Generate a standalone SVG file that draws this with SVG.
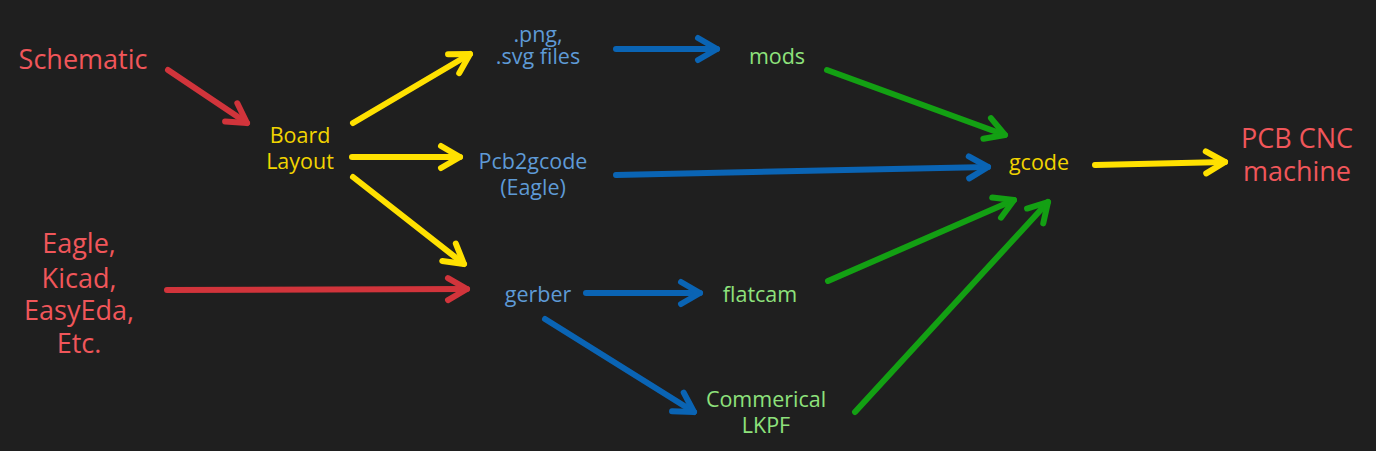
<svg xmlns="http://www.w3.org/2000/svg" width="1376" height="451" viewBox="0 0 1376 451">
<style>
text{font-family:"Open Sans","Noto Sans","Liberation Sans",sans-serif;text-anchor:middle}
.big{font-size:27px;fill:#f0565a}
.y{font-size:21.5px;fill:#f2d400}
.b{font-size:21.5px;fill:#5e9ad6}
.g{font-size:21.5px;fill:#8ee27c}
.c line{stroke-width:6;stroke-linecap:round;fill:none}
.r{stroke:#d1343b}
.yl{stroke:#ffe100}
.bl{stroke:#0a64b4}
.gl{stroke:#13a013}
</style>
<defs>
<marker id="mr" markerUnits="userSpaceOnUse" markerWidth="40" markerHeight="40" refX="0" refY="0" orient="auto" overflow="visible"><path d="M-19,-11 L0,0 L-19,11" fill="none" stroke="#d1343b" stroke-width="6" stroke-linecap="round" stroke-linejoin="round"/></marker>
<marker id="my" markerUnits="userSpaceOnUse" markerWidth="40" markerHeight="40" refX="0" refY="0" orient="auto" overflow="visible"><path d="M-19,-11 L0,0 L-19,11" fill="none" stroke="#ffe100" stroke-width="6" stroke-linecap="round" stroke-linejoin="round"/></marker>
<marker id="mb" markerUnits="userSpaceOnUse" markerWidth="40" markerHeight="40" refX="0" refY="0" orient="auto" overflow="visible"><path d="M-19,-11 L0,0 L-19,11" fill="none" stroke="#0a64b4" stroke-width="6" stroke-linecap="round" stroke-linejoin="round"/></marker>
<marker id="mg" markerUnits="userSpaceOnUse" markerWidth="40" markerHeight="40" refX="0" refY="0" orient="auto" overflow="visible"><path d="M-19,-11 L0,0 L-19,11" fill="none" stroke="#13a013" stroke-width="6" stroke-linecap="round" stroke-linejoin="round"/></marker>
</defs>
<rect width="1376" height="451" fill="#1f1f1f"/>
<g id="connectors" class="c">
<line class="r" x1="168" y1="70" x2="247" y2="123" marker-end="url(#mr)"/>
<line class="r" x1="167" y1="290" x2="467" y2="289" marker-end="url(#mr)"/>
<line class="yl" x1="353" y1="123" x2="470" y2="54" marker-end="url(#my)"/>
<line class="yl" x1="352" y1="157" x2="460" y2="157" marker-end="url(#my)"/>
<line class="yl" x1="353" y1="177" x2="464" y2="264" marker-end="url(#my)"/>
<line class="yl" x1="1095" y1="165" x2="1225" y2="162" marker-end="url(#my)"/>
<line class="bl" x1="616" y1="49" x2="717" y2="49" marker-end="url(#mb)"/>
<line class="bl" x1="616" y1="175" x2="988" y2="167" marker-end="url(#mb)"/>
<line class="bl" x1="586" y1="293" x2="700" y2="293" marker-end="url(#mb)"/>
<line class="bl" x1="545" y1="319" x2="694" y2="412" marker-end="url(#mb)"/>
<line class="gl" x1="827" y1="70" x2="1005" y2="135" marker-end="url(#mg)"/>
<line class="gl" x1="828" y1="281" x2="1014" y2="200" marker-end="url(#mg)"/>
<line class="gl" x1="855" y1="412" x2="1048" y2="202" marker-end="url(#mg)"/>
</g>
<g id="schematic"><text class="big" x="83" y="69">Schematic</text></g>
<g id="eda"><text class="big"><tspan x="79" y="253">Eagle,</tspan><tspan x="79" y="288">Kicad,</tspan><tspan x="79" y="320">EasyEda,</tspan><tspan x="79" y="353">Etc.</tspan></text></g>
<g id="board"><text class="y"><tspan x="300" y="143">Board</tspan><tspan x="300" y="169">Layout</tspan></text></g>
<g id="png"><text class="b"><tspan x="538" y="42">.png,</tspan><tspan x="538" y="64">.svg files</tspan></text></g>
<g id="pcb2gcode"><text class="b"><tspan x="533" y="169">Pcb2gcode</tspan><tspan x="533" y="195">(Eagle)</tspan></text></g>
<g id="gerber"><text class="b" x="538" y="302">gerber</text></g>
<g id="mods"><text class="g" x="777" y="64">mods</text></g>
<g id="flatcam"><text class="g" x="760" y="302">flatcam</text></g>
<g id="lkpf"><text class="g"><tspan x="766" y="407">Commerical</tspan><tspan x="766" y="433">LKPF</tspan></text></g>
<g id="gcode"><text class="y" x="1039" y="170">gcode</text></g>
<g id="pcbcnc"><text class="big"><tspan x="1297" y="148">PCB CNC</tspan><tspan x="1297" y="181">machine</tspan></text></g>
</svg>
